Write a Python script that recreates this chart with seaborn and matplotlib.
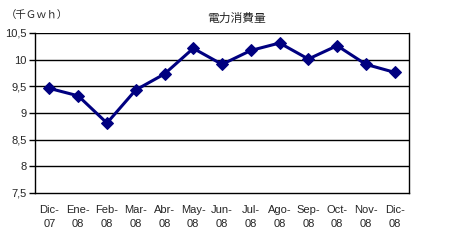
import matplotlib
matplotlib.use("Agg")
import matplotlib.pyplot as plt
import seaborn as sns
import numpy as np
from matplotlib.ticker import FixedLocator

months = ["Dic-\n07", "Ene-\n08", "Feb-\n08", "Mar-\n08", "Abr-\n08", "May-\n08", "Jun-\n08",
          "Jul-\n08", "Ago-\n08", "Sep-\n08", "Oct-\n08", "Nov-\n08", "Dic-\n08"]
consumo = [9.46, 9.32, 8.81, 9.43, 9.73, 10.21, 9.91, 10.17, 10.31, 10.01, 10.26, 9.91, 9.76]
yticks = [7.5, 8, 8.5, 9, 9.5, 10, 10.5]
ytick_labels = ["7,5", "8", "8,5", "9", "9,5", "10", "10,5"]

sns.set_style("white")
plt.rcParams['font.family'] = ['Liberation Sans', 'Noto Sans CJK JP', 'DejaVu Sans']

fig = plt.figure(figsize=(4.55, 2.49), dpi=100)
ax = fig.add_axes([0.077, 0.225, 0.822, 0.643])

x = np.arange(len(months))
sns.lineplot(x=x, y=consumo, ax=ax, color="#000080", linewidth=2.2,
             marker="D", markersize=6.5, markeredgecolor="#000080", markerfacecolor="#000080")

ax.set_xlim(-0.5, len(months) - 0.5)
ax.set_ylim(7.5, 10.5)
ax.set_yticks(yticks)
ax.set_yticklabels(ytick_labels, fontsize=8)
for yv in yticks[1:]:
    ax.axhline(yv, color="black", linewidth=1.0, zorder=0)

ax.xaxis.set_major_locator(FixedLocator(np.arange(-0.5, len(months), 1.0)))
ax.set_xticklabels([])
ax.xaxis.set_minor_locator(FixedLocator(x))
ax.set_xticklabels(months, minor=True, fontsize=8, linespacing=1.45)
ax.tick_params(axis="x", which="major", direction="inout", length=6, width=1, color="black")
ax.tick_params(axis="x", which="minor", length=0, pad=9)
ax.tick_params(axis="y", which="major", direction="out", length=4, width=1, color="black", pad=2, left=True)

for s in ["left", "bottom", "right"]:
    ax.spines[s].set_visible(True)
    ax.spines[s].set_color("black")
    ax.spines[s].set_linewidth(1.0)
ax.spines["top"].set_visible(False)
ax.grid(False)
ax.set_xlabel("")
ax.set_ylabel("")

fig.text(0.012, 0.94, "（千Ｇｗｈ）", fontsize=7.5, family=['Noto Sans CJK JP', 'DejaVu Sans'], va="center")
fig.text(0.52, 0.925, "電力消費量", fontsize=8.5, family=['Noto Sans CJK JP', 'DejaVu Sans'], ha="center", va="center")

fig.savefig("out.png", dpi=100, facecolor="white")
